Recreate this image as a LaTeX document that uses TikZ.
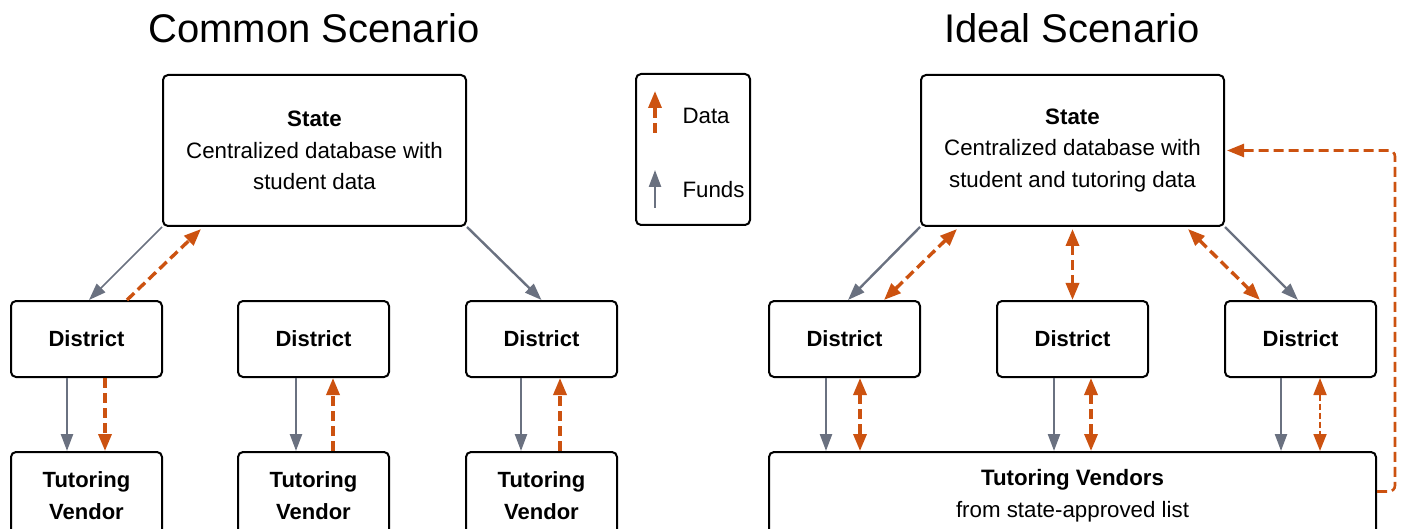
\documentclass[tikz,border=0pt]{standalone}
\usepackage{fontspec}
\setmainfont{Liberation Sans}
\usepackage{xcolor}
\usetikzlibrary{arrows.meta}
\definecolor{dataorange}{HTML}{CC5210}
\definecolor{fundsgray}{HTML}{6A7180}

\begin{document}
\begin{tikzpicture}[x=1pt, y=-1pt,
  every node/.style={font=\fontsize{22.3}{31.5}\selectfont},
  block/.style={draw=black, line width=2pt, rounded corners=5pt, align=center, inner sep=0pt},
  bold/.style={font=\fontsize{22}{31.5}\selectfont\bfseries},
  data/.style={draw=dataorange, line width=3.4pt, dash pattern=on 10pt off 5pt, -{Triangle[length=17pt,width=13pt]}},
  databoth/.style={data, {Triangle[length=17pt,width=13pt]}-{Triangle[length=17pt,width=13pt]}},
  funds/.style={draw=fundsgray, line width=2.4pt, -{Triangle[length=17pt,width=12pt]}}]
\useasboundingbox (0,0) rectangle (1405,529);

% Common scenario
\node[font=\fontsize{40}{44}\selectfont] (title1) at (314,28) {Common Scenario};
\node[block, minimum width=303pt, minimum height=151pt] (state1) at (314.5,150.5) {\textbf{State}\\Centralized database with\\student data};
\node[block, bold, minimum width=151pt, minimum height=76pt] (dist11) at (86.5,339) {District};
\node[block, bold, minimum width=151pt, minimum height=76pt] (dist12) at (313.5,339) {District};
\node[block, bold, minimum width=151pt, minimum height=76pt] (dist13) at (541.5,339) {District};
\node[block, bold, minimum width=151pt, minimum height=87pt] (vend11) at (86.5,495.5) {Tutoring\\Vendor};
\node[block, bold, minimum width=151pt, minimum height=87pt] (vend12) at (313.5,495.5) {Tutoring\\Vendor};
\node[block, bold, minimum width=151pt, minimum height=87pt] (vend13) at (541.5,495.5) {Tutoring\\Vendor};
\draw[funds, line width=1.7pt] (state1.south west) -- ([xshift=2.5pt]dist11.north);
\draw[data] ([xshift=40.5pt]dist11.north) -- ([xshift=-113.5pt,yshift=-2pt]state1.south);
\draw[funds] (state1.south east) -- (dist13.north);
\draw[funds] ([xshift=-19.5pt]dist11.south) -- ([xshift=-19.5pt]dist11.south |- vend11.north);
\draw[data] ([xshift=18.5pt]dist11.south) -- ([xshift=18.5pt]dist11.south |- vend11.north);
\draw[funds] ([xshift=-17.5pt]dist12.south) -- ([xshift=-17.5pt]dist12.south |- vend12.north);
\draw[data] ([xshift=19.5pt]dist12.south |- vend12.north) -- ([xshift=19.5pt]dist12.south);
\draw[funds] ([xshift=-20.5pt]dist13.south) -- ([xshift=-20.5pt]dist13.south |- vend13.north);
\draw[data] ([xshift=18.5pt]dist13.south |- vend13.north) -- ([xshift=18.5pt]dist13.south);

% Legend
\node[block, minimum width=114pt, minimum height=151pt] (legend) at (693,149.5) {};
\coordinate (ldata) at (655,133);
\coordinate (lfunds) at (655,208);
\draw[data] (ldata) -- ++(0,-42);
\draw[funds] (lfunds) -- ++(0,-38);
\node[anchor=west] (ldatatext) at (679,116) {Data};
\node[anchor=west] (lfundstext) at (679,190) {Funds};

% Ideal scenario
\node[font=\fontsize{40}{44}\selectfont] (title2) at (1072,28) {Ideal Scenario};
\node[block, minimum width=303pt, minimum height=151pt] (state2) at (1072.5,150.5) {\textbf{State}\\Centralized database with\\student and tutoring data};
\node[block, bold, minimum width=151pt, minimum height=76pt] (dist21) at (844.5,339) {District};
\node[block, bold, minimum width=151pt, minimum height=76pt] (dist22) at (1072.5,339) {District};
\node[block, bold, minimum width=151pt, minimum height=76pt] (dist23) at (1300.5,339) {District};
\node[block, minimum width=607pt, minimum height=87pt] (vend2) at (1072.5,495.5) {\textbf{Tutoring Vendors}\\from state-approved list};
\draw[funds] (state2.south west) -- ([xshift=3.5pt]dist21.north);
\draw[databoth] ([xshift=39.5pt]dist21.north) -- ([xshift=-115.5pt,yshift=-2pt]state2.south);
\draw[databoth] ([yshift=-2pt]state2.south) -- (dist22.north);
\draw[databoth] ([xshift=115.5pt,yshift=-2pt]state2.south) -- ([xshift=-40.5pt]dist23.north);
\draw[funds] (state2.south east) -- ([xshift=-2.5pt]dist23.north);
\draw[funds] ([xshift=-18.5pt]dist21.south) -- ([xshift=-18.5pt]dist21.south |- vend2.north);
\draw[databoth] ([xshift=15.5pt]dist21.south) -- ([xshift=15.5pt]dist21.south |- vend2.north);
\draw[funds] ([xshift=-18.5pt]dist22.south) -- ([xshift=-18.5pt]dist22.south |- vend2.north);
\draw[databoth] ([xshift=18.5pt]dist22.south) -- ([xshift=18.5pt]dist22.south |- vend2.north);
\draw[funds] ([xshift=-19.5pt]dist23.south) -- ([xshift=-19.5pt]dist23.south |- vend2.north);
\draw[databoth, line width=1.8pt, dash pattern=on 6pt off 3pt] ([xshift=19.5pt]dist23.south) -- ([xshift=19.5pt]dist23.south |- vend2.north);
\draw[data, line width=2.6pt, rounded corners=6pt] ([yshift=4pt]vend2.east) -- ++(18pt,0) |- ([xshift=2pt]state2.east);
\end{tikzpicture}
\end{document}
